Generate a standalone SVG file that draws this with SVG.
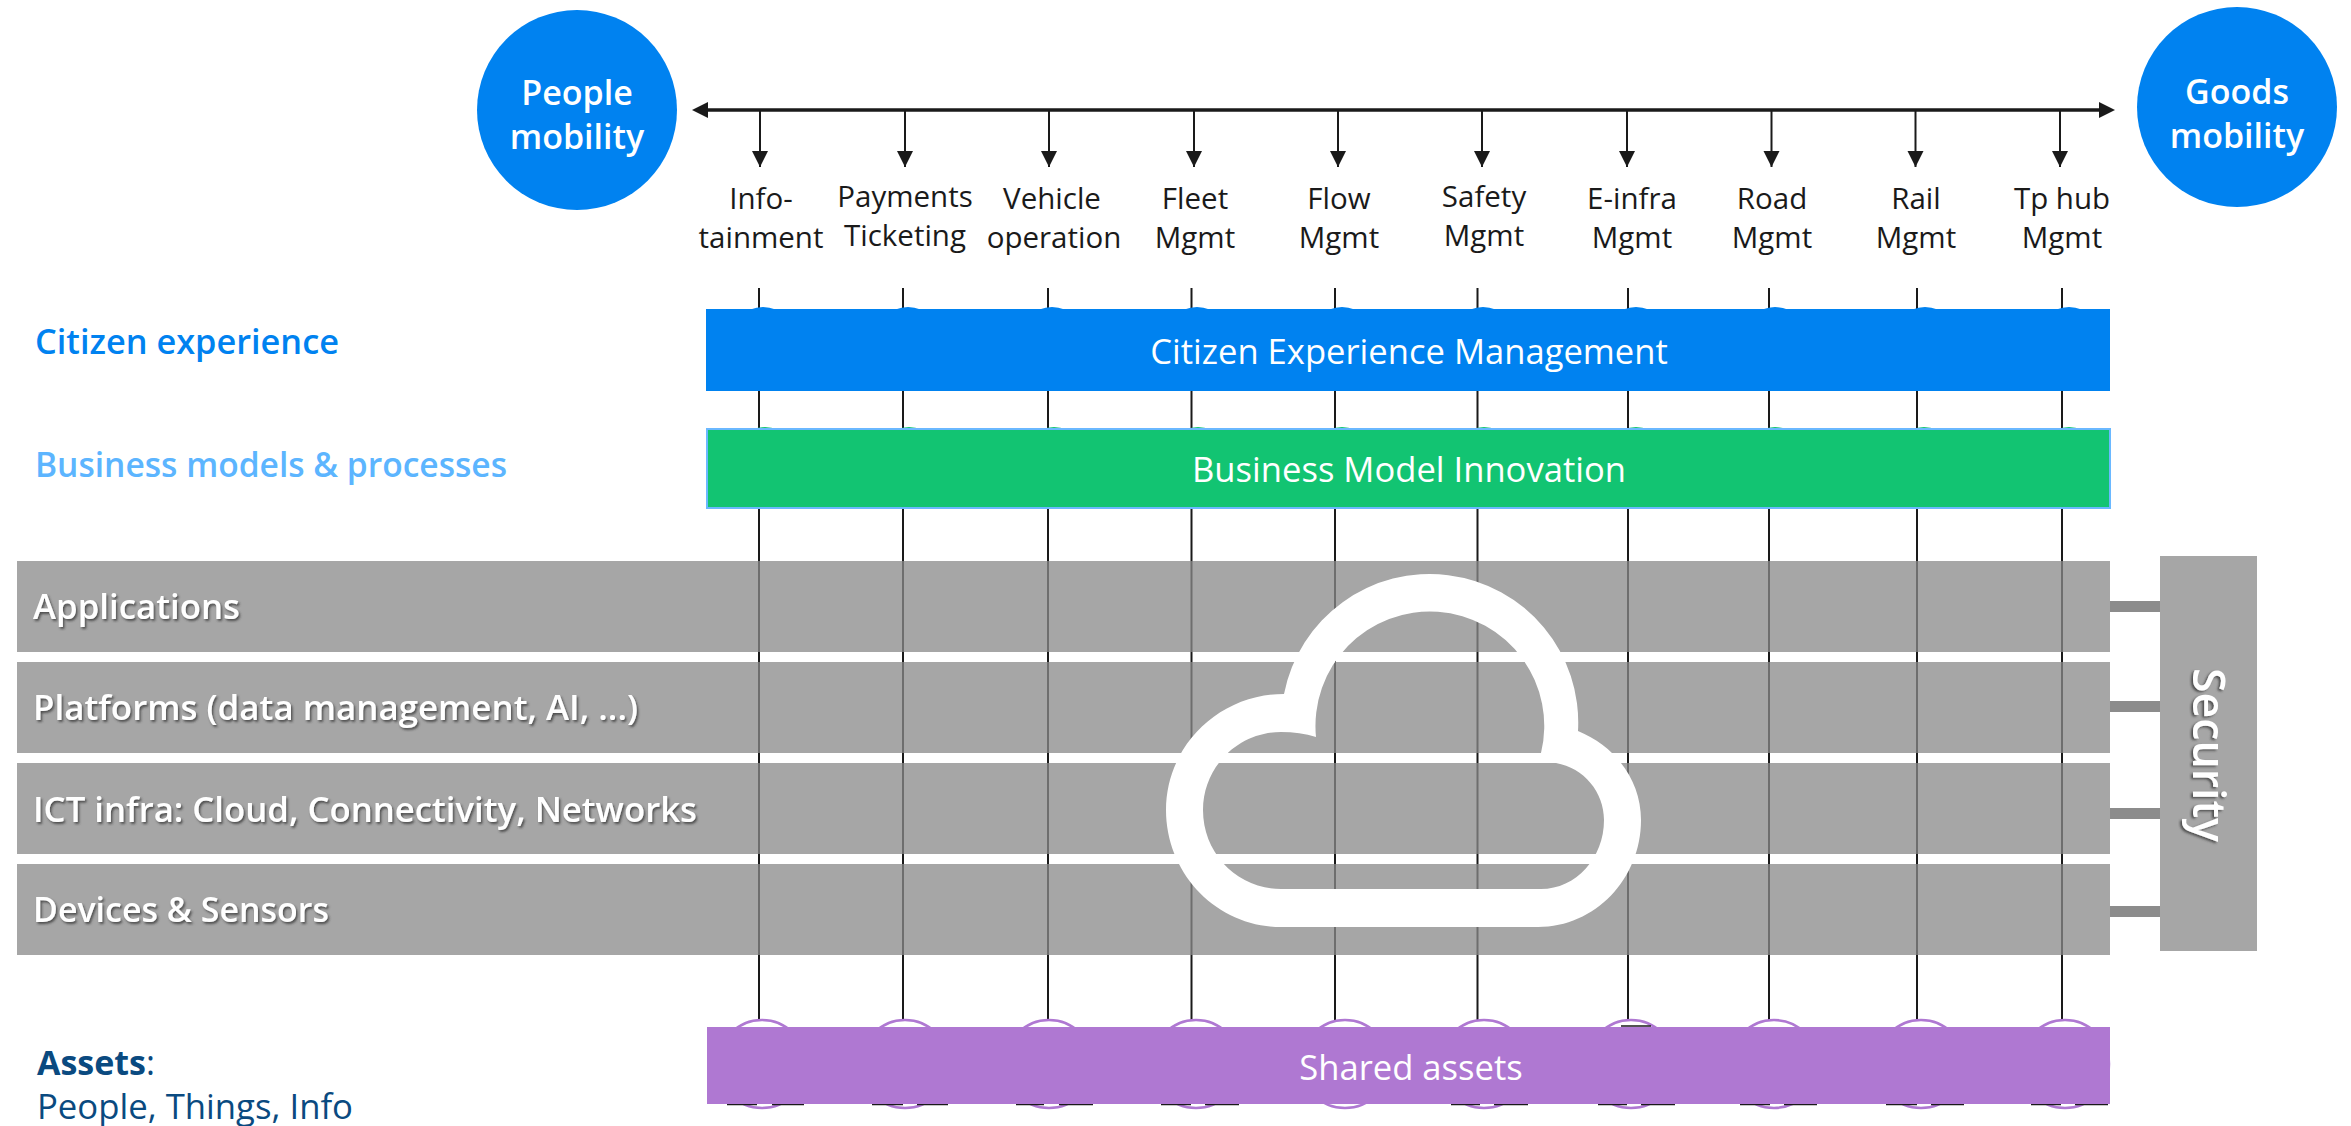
<svg xmlns="http://www.w3.org/2000/svg" width="2351" height="1126" viewBox="0 0 2351 1126">
<style>
text{font-family:"Open Sans","Noto Sans","Liberation Sans",sans-serif}
.hub{fill:#0082f0}
.hubt{fill:#fff;font-size:34px;font-weight:600;text-anchor:middle}
.lbl{fill:#1a1a1a;font-size:29.500px;text-anchor:middle}
.bar{fill:#fff;font-size:34.600px;text-anchor:middle}
.row{fill:#898989;fill-opacity:.755}
.rowt{fill:#fff;font-size:35px;font-weight:600;filter:url(#sh)}
.side{font-size:34px;font-weight:600}
.v{stroke:#1a1a1a;stroke-width:2;fill:none}
.d{stroke:#1a1a1a;stroke-width:2;fill:none;marker-end:url(#ah)}
.blink{fill:#8c8c8c}
.pc{fill:#fff;stroke:#af78d2;stroke-width:2.500}
.bc{fill:#0082f0}
.gc{fill:#12c472}
</style>
<defs>
<marker id="ah" markerUnits="userSpaceOnUse" markerWidth="18" markerHeight="18" refX="16" refY="8" orient="auto"><path d="M0 0L16 8L0 16Z" fill="#1a1a1a"/></marker>
<filter id="sh" x="-10%" y="-30%" width="120%" height="170%"><feDropShadow dx="1.500" dy="2" stdDeviation="1.200" flood-color="#333" flood-opacity=".75"/></filter>
</defs>
<g id="connectors">
<path class="v" style="stroke-width:3.500" d="M704 110H2102"/>
<path d="M692 110L708 102V118Z" fill="#1a1a1a"/>
<path d="M2115 110L2099 102V118Z" fill="#1a1a1a"/>
<path class="d" d="M760 110V167"/><path class="d" d="M905 110V167"/><path class="d" d="M1049 110V167"/><path class="d" d="M1194 110V167"/><path class="d" d="M1338 110V167"/><path class="d" d="M1482 110V167"/><path class="d" d="M1627 110V167"/><path class="d" d="M1771.500 110V167"/><path class="d" d="M1915.500 110V167"/><path class="d" d="M2060 110V167"/>
<path class="v" d="M759 288V1060M903 288V1060M1048 288V1060M1191.500 288V1060M1335 288V1060M1477.500 288V1060M1628 288V1060M1769 288V1060M1917 288V1060M2062 288V1060"/>
<rect class="blink" x="2110" y="601" width="50" height="11"/>
<rect class="blink" x="2110" y="701" width="50" height="11"/>
<rect class="blink" x="2110" y="808" width="50" height="11"/>
<rect class="blink" x="2110" y="906" width="50" height="11"/>
</g>
<g id="people-mobility"><circle class="hub" cx="577" cy="110" r="100"/><text class="hubt" x="577" y="105">People</text><text class="hubt" x="577" y="149">mobility</text></g>
<g id="goods-mobility"><circle class="hub" cx="2237" cy="107" r="100"/><text class="hubt" x="2237" y="104">Goods</text><text class="hubt" x="2237" y="148">mobility</text></g>
<g id="labels">
<text class="lbl" x="761" y="209">Info-</text><text class="lbl" x="761" y="248">tainment</text>
<text class="lbl" x="905" y="207">Payments</text><text class="lbl" x="905" y="246">Ticketing</text>
<text class="lbl" x="1052" y="209">Vehicle</text><text class="lbl" x="1054" y="248">operation</text>
<text class="lbl" x="1195" y="209">Fleet</text><text class="lbl" x="1195" y="248">Mgmt</text>
<text class="lbl" x="1339" y="209">Flow</text><text class="lbl" x="1339" y="248">Mgmt</text>
<text class="lbl" x="1484" y="207">Safety</text><text class="lbl" x="1484" y="246">Mgmt</text>
<text class="lbl" x="1632" y="209">E-infra</text><text class="lbl" x="1632" y="248">Mgmt</text>
<text class="lbl" x="1772" y="209">Road</text><text class="lbl" x="1772" y="248">Mgmt</text>
<text class="lbl" x="1916" y="209">Rail</text><text class="lbl" x="1916" y="248">Mgmt</text>
<text class="lbl" x="2062" y="209">Tp hub</text><text class="lbl" x="2062" y="248">Mgmt</text>
</g>
<g id="citizen-experience-management">
<circle class="bc" cx="763" cy="340" r="33"/><circle class="bc" cx="908" cy="340" r="33"/><circle class="bc" cx="1052" cy="340" r="33"/><circle class="bc" cx="1197" cy="340" r="33"/><circle class="bc" cx="1342" cy="340" r="33"/><circle class="bc" cx="1483" cy="340" r="33"/><circle class="bc" cx="1636" cy="340" r="33"/><circle class="bc" cx="1775" cy="340" r="33"/><circle class="bc" cx="1925" cy="340" r="33"/><circle class="bc" cx="2069" cy="340" r="33"/>
<rect x="706" y="309" width="1404" height="82" fill="#0082f0"/><text class="bar" x="1409" y="364">Citizen Experience Management</text></g>
<g id="business-model-innovation">
<circle class="gc" cx="765" cy="460" r="33"/><circle class="gc" cx="909" cy="460" r="33"/><circle class="gc" cx="1054" cy="460" r="33"/><circle class="gc" cx="1198" cy="460" r="33"/><circle class="gc" cx="1342" cy="460" r="33"/><circle class="gc" cx="1484" cy="460" r="33"/><circle class="gc" cx="1636" cy="460" r="33"/><circle class="gc" cx="1775" cy="460" r="33"/><circle class="gc" cx="1924" cy="460" r="33"/><circle class="gc" cx="2069" cy="460" r="33"/>
<rect x="707" y="429" width="1403" height="79" fill="#12c472" stroke="#6ab8ff" stroke-width="2"/><text class="bar" x="1409" y="482">Business Model Innovation</text></g>
<g id="rows">
<g id="applications"><rect class="row" x="17" y="561" width="2093" height="91"/><text class="rowt" x="33" y="619" textLength="207" lengthAdjust="spacingAndGlyphs">Applications</text></g>
<g id="platforms"><rect class="row" x="17" y="662" width="2093" height="91"/><text class="rowt" x="33" y="720" textLength="605" lengthAdjust="spacingAndGlyphs">Platforms (data management, AI, ...)</text></g>
<g id="ict-infra"><rect class="row" x="17" y="763" width="2093" height="91"/><text class="rowt" x="33" y="822" textLength="664" lengthAdjust="spacingAndGlyphs">ICT infra: Cloud, Connectivity, Networks</text></g>
<g id="devices"><rect class="row" x="17" y="864" width="2093" height="91"/><text class="rowt" x="33" y="922" textLength="296" lengthAdjust="spacingAndGlyphs">Devices &amp; Sensors</text></g>
</g>
<g id="security"><rect x="2160" y="556" width="97" height="395" fill="#a6a6a6"/><text class="rowt" style="font-size:45px" transform="translate(2193 668) rotate(90)" textLength="174" lengthAdjust="spacingAndGlyphs">Security</text></g>
<g id="cloud"><path fill="#fff" fill-rule="evenodd" d="M1284 694A148.500 148.500 0 0 1 1578 731C1615 746 1641 780 1641 820C1641 879 1595 927 1538 927H1281C1217 927 1166 874 1166 810C1166 746 1219 694 1284 694ZM1316 737A114.400 114.400 0 1 1 1541 753L1556 763C1584 768 1604 792 1604 820C1604 858 1576 889 1541 889H1281C1238 889 1203 854 1203 810C1203 767 1238 732 1281 732Q1300 732 1316 737Z"/></g>
<g id="shared-assets">
<circle class="pc" cx="762" cy="1064" r="44"/><circle class="pc" cx="905" cy="1064" r="44"/><circle class="pc" cx="1049" cy="1064" r="44"/><circle class="pc" cx="1196" cy="1064" r="44"/><circle class="pc" cx="1345" cy="1064" r="44"/><circle class="pc" cx="1484" cy="1064" r="44"/><circle class="pc" cx="1631" cy="1064" r="44"/><circle class="pc" cx="1774" cy="1064" r="44"/><circle class="pc" cx="1921" cy="1064" r="44"/><circle class="pc" cx="2065" cy="1064" r="44"/>
<path class="v" style="stroke-width:1.500" d="M727 1104.500H757M772 1104.500H804M872 1104.500H903M917 1104.500H948M1016 1104.500H1044M1059 1104.500H1093M1161 1104.500H1191M1205 1104.500H1239M1451 1104.500H1480M1494 1104.500H1528M1598 1104.500H1627M1641 1104.500H1675M1740 1104.500H1770M1784 1104.500H1817M1886 1104.500H1917M1931 1104.500H1964M2031 1104.500H2061M2075 1104.500H2108M1621 1026H1651"/>
<rect x="707" y="1027" width="1403" height="77" fill="#af78d2"/><text class="bar" x="1411" y="1080">Shared assets</text></g>
<g id="side-labels">
<text class="side" x="35" y="354" fill="#0082f0" textLength="304" lengthAdjust="spacingAndGlyphs">Citizen experience</text>
<text class="side" x="35" y="477" fill="#5cb5ff" textLength="472" lengthAdjust="spacingAndGlyphs">Business models &amp; processes</text>
<text class="side" x="37" y="1075" fill="#0a4a80" style="font-weight:700">Assets<tspan style="font-weight:400">:</tspan></text>
<text class="side" x="37" y="1119" fill="#0a4a80" style="font-size:35px;font-weight:400" textLength="316" lengthAdjust="spacingAndGlyphs">People, Things, Info</text>
</g>
</svg>
